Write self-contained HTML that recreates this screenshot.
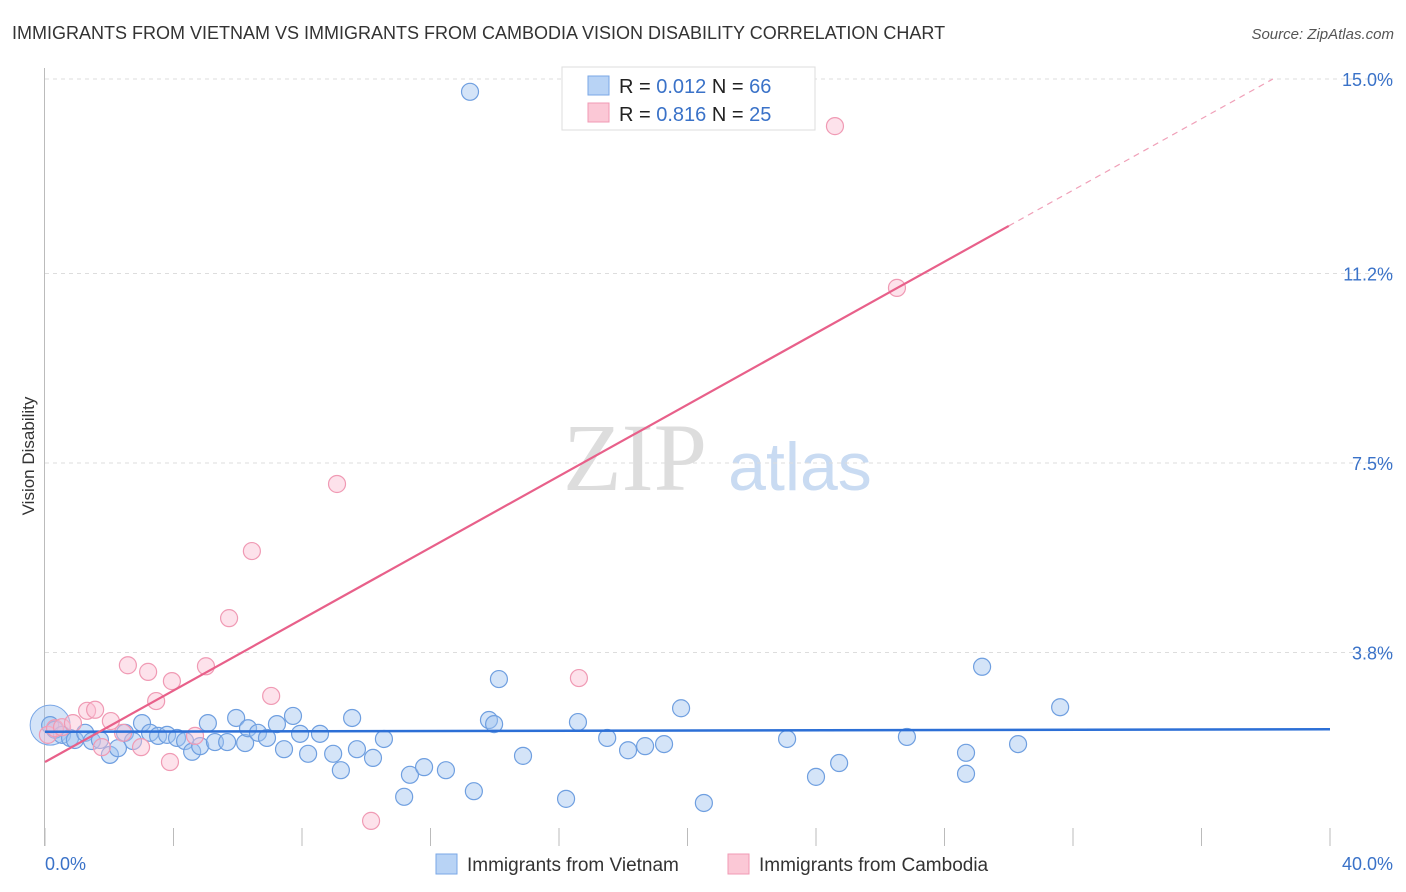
<!DOCTYPE html>
<html><head><meta charset="utf-8"><style>
body{margin:0;background:#fff;font-family:"Liberation Sans",sans-serif;}
svg{display:block}
</style></head><body>
<svg id="chart" width="1406" height="892" xmlns="http://www.w3.org/2000/svg">
<text x="12" y="39" font-size="18" fill="#333">IMMIGRANTS FROM VIETNAM VS IMMIGRANTS FROM CAMBODIA VISION DISABILITY CORRELATION CHART</text>
<text x="1394" y="39" font-size="15" fill="#555" font-style="italic" text-anchor="end">Source: ZipAtlas.com</text>
<text x="0" y="0" transform="translate(34,456) rotate(-90)" font-size="17" fill="#333" text-anchor="middle">Vision Disability</text>
<g>
<text x="635" y="490" font-size="96" fill="#ddd" font-family="Liberation Serif,serif" text-anchor="middle">ZIP</text>
<text x="800" y="490" font-size="68" fill="#c9dbf2" text-anchor="middle">atlas</text>
</g>
<g id="grid"></g><g id="axes"></g><g id="marks"></g>
<g>
<rect x="562" y="67" width="253" height="63" fill="#fff" stroke="#ddd"/>
<rect x="588" y="76" width="21" height="19" fill="#b8d3f5" stroke="#7aa7e6"/>
<rect x="588" y="103" width="21" height="19" fill="#fbc8d6" stroke="#f09ab4"/>
<text x="619" y="93" font-size="20" fill="#222">R = <tspan fill="#3a72c8">0.012</tspan>   N = <tspan fill="#3a72c8">66</tspan></text>
<text x="619" y="121" font-size="20" fill="#222">R = <tspan fill="#3a72c8">0.816</tspan>   N = <tspan fill="#3a72c8">25</tspan></text>
</g>
<g>
<rect x="436" y="854" width="21" height="20" fill="#b8d3f5" stroke="#7aa7e6"/>
<text x="467" y="871" font-size="19" fill="#333">Immigrants from Vietnam</text>
<rect x="728" y="854" width="21" height="20" fill="#fbc8d6" stroke="#f09ab4"/>
<text x="759" y="871" font-size="19" fill="#333">Immigrants from Cambodia</text>
</g>
</svg>
<script>
const blueX=[0.16,0.31,0.53,0.78,0.93,1.25,1.46,1.71,2.02,2.27,2.49,2.74,3.02,3.27,3.52,3.80,4.11,4.36,4.58,4.83,5.07,5.29,5.67,5.95,6.23,6.32,6.63,6.91,7.22,7.44,7.72,7.94,8.19,8.56,8.97,9.21,9.56,9.71,10.21,10.55,11.18,11.36,11.80,12.48,13.23,13.35,13.82,13.98,14.13,14.88,16.22,16.59,17.50,18.15,18.68,19.27,19.80,20.51,23.10,24.00,24.72,26.83,28.67,28.67,29.17,30.29,31.60];
const blueY=[2.38,2.29,2.19,2.13,2.09,2.23,2.07,2.09,1.80,1.93,2.23,2.07,2.42,2.23,2.17,2.19,2.13,2.07,1.86,1.97,2.42,2.05,2.05,2.52,2.03,2.32,2.23,2.13,2.40,1.91,2.56,2.21,1.82,2.21,1.82,1.50,2.52,1.91,1.74,2.11,0.98,1.41,1.56,1.50,14.75,1.09,2.48,2.40,3.28,1.78,0.94,2.44,2.13,1.89,1.97,2.01,2.71,0.86,2.11,1.37,1.64,2.15,1.84,1.43,3.52,2.01,2.73];
const pinkX=[0.09,0.31,0.53,0.87,1.31,1.56,1.77,2.05,2.43,2.58,2.99,3.21,3.46,3.89,3.95,4.67,5.01,5.73,6.44,7.04,9.09,10.15,16.62,24.59,26.52];
const pinkY=[2.19,2.32,2.34,2.42,2.66,2.68,1.95,2.46,2.23,3.55,1.95,3.42,2.85,1.66,3.24,2.17,3.53,4.47,5.78,2.95,7.09,0.51,3.30,14.08,10.92];
const yTicks=[3.8,7.5,11.2,15.0];
const yTickLabels=["3.8%","7.5%","11.2%","15.0%"];
const xTicks=[0,4,8,12,16,20,24,28,32,36,40];
const blueTrend=[2.25,2.30];
const pinkTrend=[1.66,0.349];
const NS="http://www.w3.org/2000/svg";
const X=v=>45+v*1285/40, Y=v=>847-v*51.2;
function mk(t,a,p){const e=document.createElementNS(NS,t);for(const k in a)e.setAttribute(k,a[k]);document.getElementById(p).appendChild(e);return e;}
yTicks.forEach((v,i)=>{
 const l=mk('line',{x1:45,x2:1394,y1:Y(v),y2:Y(v),stroke:'#ddd','stroke-dasharray':'4,4'},'grid');
 
 
 const t=mk('text',{x:1393,y:Y(v)+7,'font-size':18,fill:'#3a72c8','text-anchor':'end'},'axes');
 t.textContent=yTickLabels[i];
 
 
});
const ax=mk('line',{x1:44.5,x2:44.5,y1:68,y2:846,stroke:'#bbb'},'axes');


xTicks.forEach(v=>{
 const l=mk('line',{x1:X(v),x2:X(v),y1:828,y2:846,stroke:'#bbb'},'axes');
 
 
});
const x0=mk('text',{x:45,y:870,'font-size':18,fill:'#3a72c8'},'axes');x0.textContent='0.0%';


const x1=mk('text',{x:1393,y:870,'font-size':18,fill:'#3a72c8','text-anchor':'end'},'axes');x1.textContent='40.0%';


const big=mk('circle',{cx:X(0.16),cy:Y(2.38),r:20,fill:'rgba(160,195,240,0.45)',stroke:'#7aa7e6'},'marks');


blueX.forEach((x,i)=>{
 const c=mk('circle',{cx:X(x),cy:Y(blueY[i]),r:8.5,fill:'rgba(160,195,240,0.45)',stroke:'#6f9fe0','stroke-width':1.2},'marks');
 
 
});
pinkX.forEach((x,i)=>{
 const c=mk('circle',{cx:X(x),cy:Y(pinkY[i]),r:8.5,fill:'rgba(250,190,210,0.45)',stroke:'#f09ab4','stroke-width':1.2},'marks');
 
 
});
const bl=mk('line',{x1:X(0),x2:X(40),y1:Y(blueTrend[0]),y2:Y(blueTrend[1]),stroke:'#2c6fd6','stroke-width':2.5},'marks');


const pe=(15-pinkTrend[0])/pinkTrend[1];
const pl=mk('line',{x1:X(0),x2:X(30),y1:Y(pinkTrend[0]),y2:Y(pinkTrend[0]+30*pinkTrend[1]),stroke:'#e8608a','stroke-width':2.2},'marks');


const pd=mk('line',{x1:X(30),x2:X(pe),y1:Y(pinkTrend[0]+30*pinkTrend[1]),y2:Y(15),stroke:'#f0a0b8','stroke-width':1.2,'stroke-dasharray':'6,5'},'marks');


</script>
</body></html>
